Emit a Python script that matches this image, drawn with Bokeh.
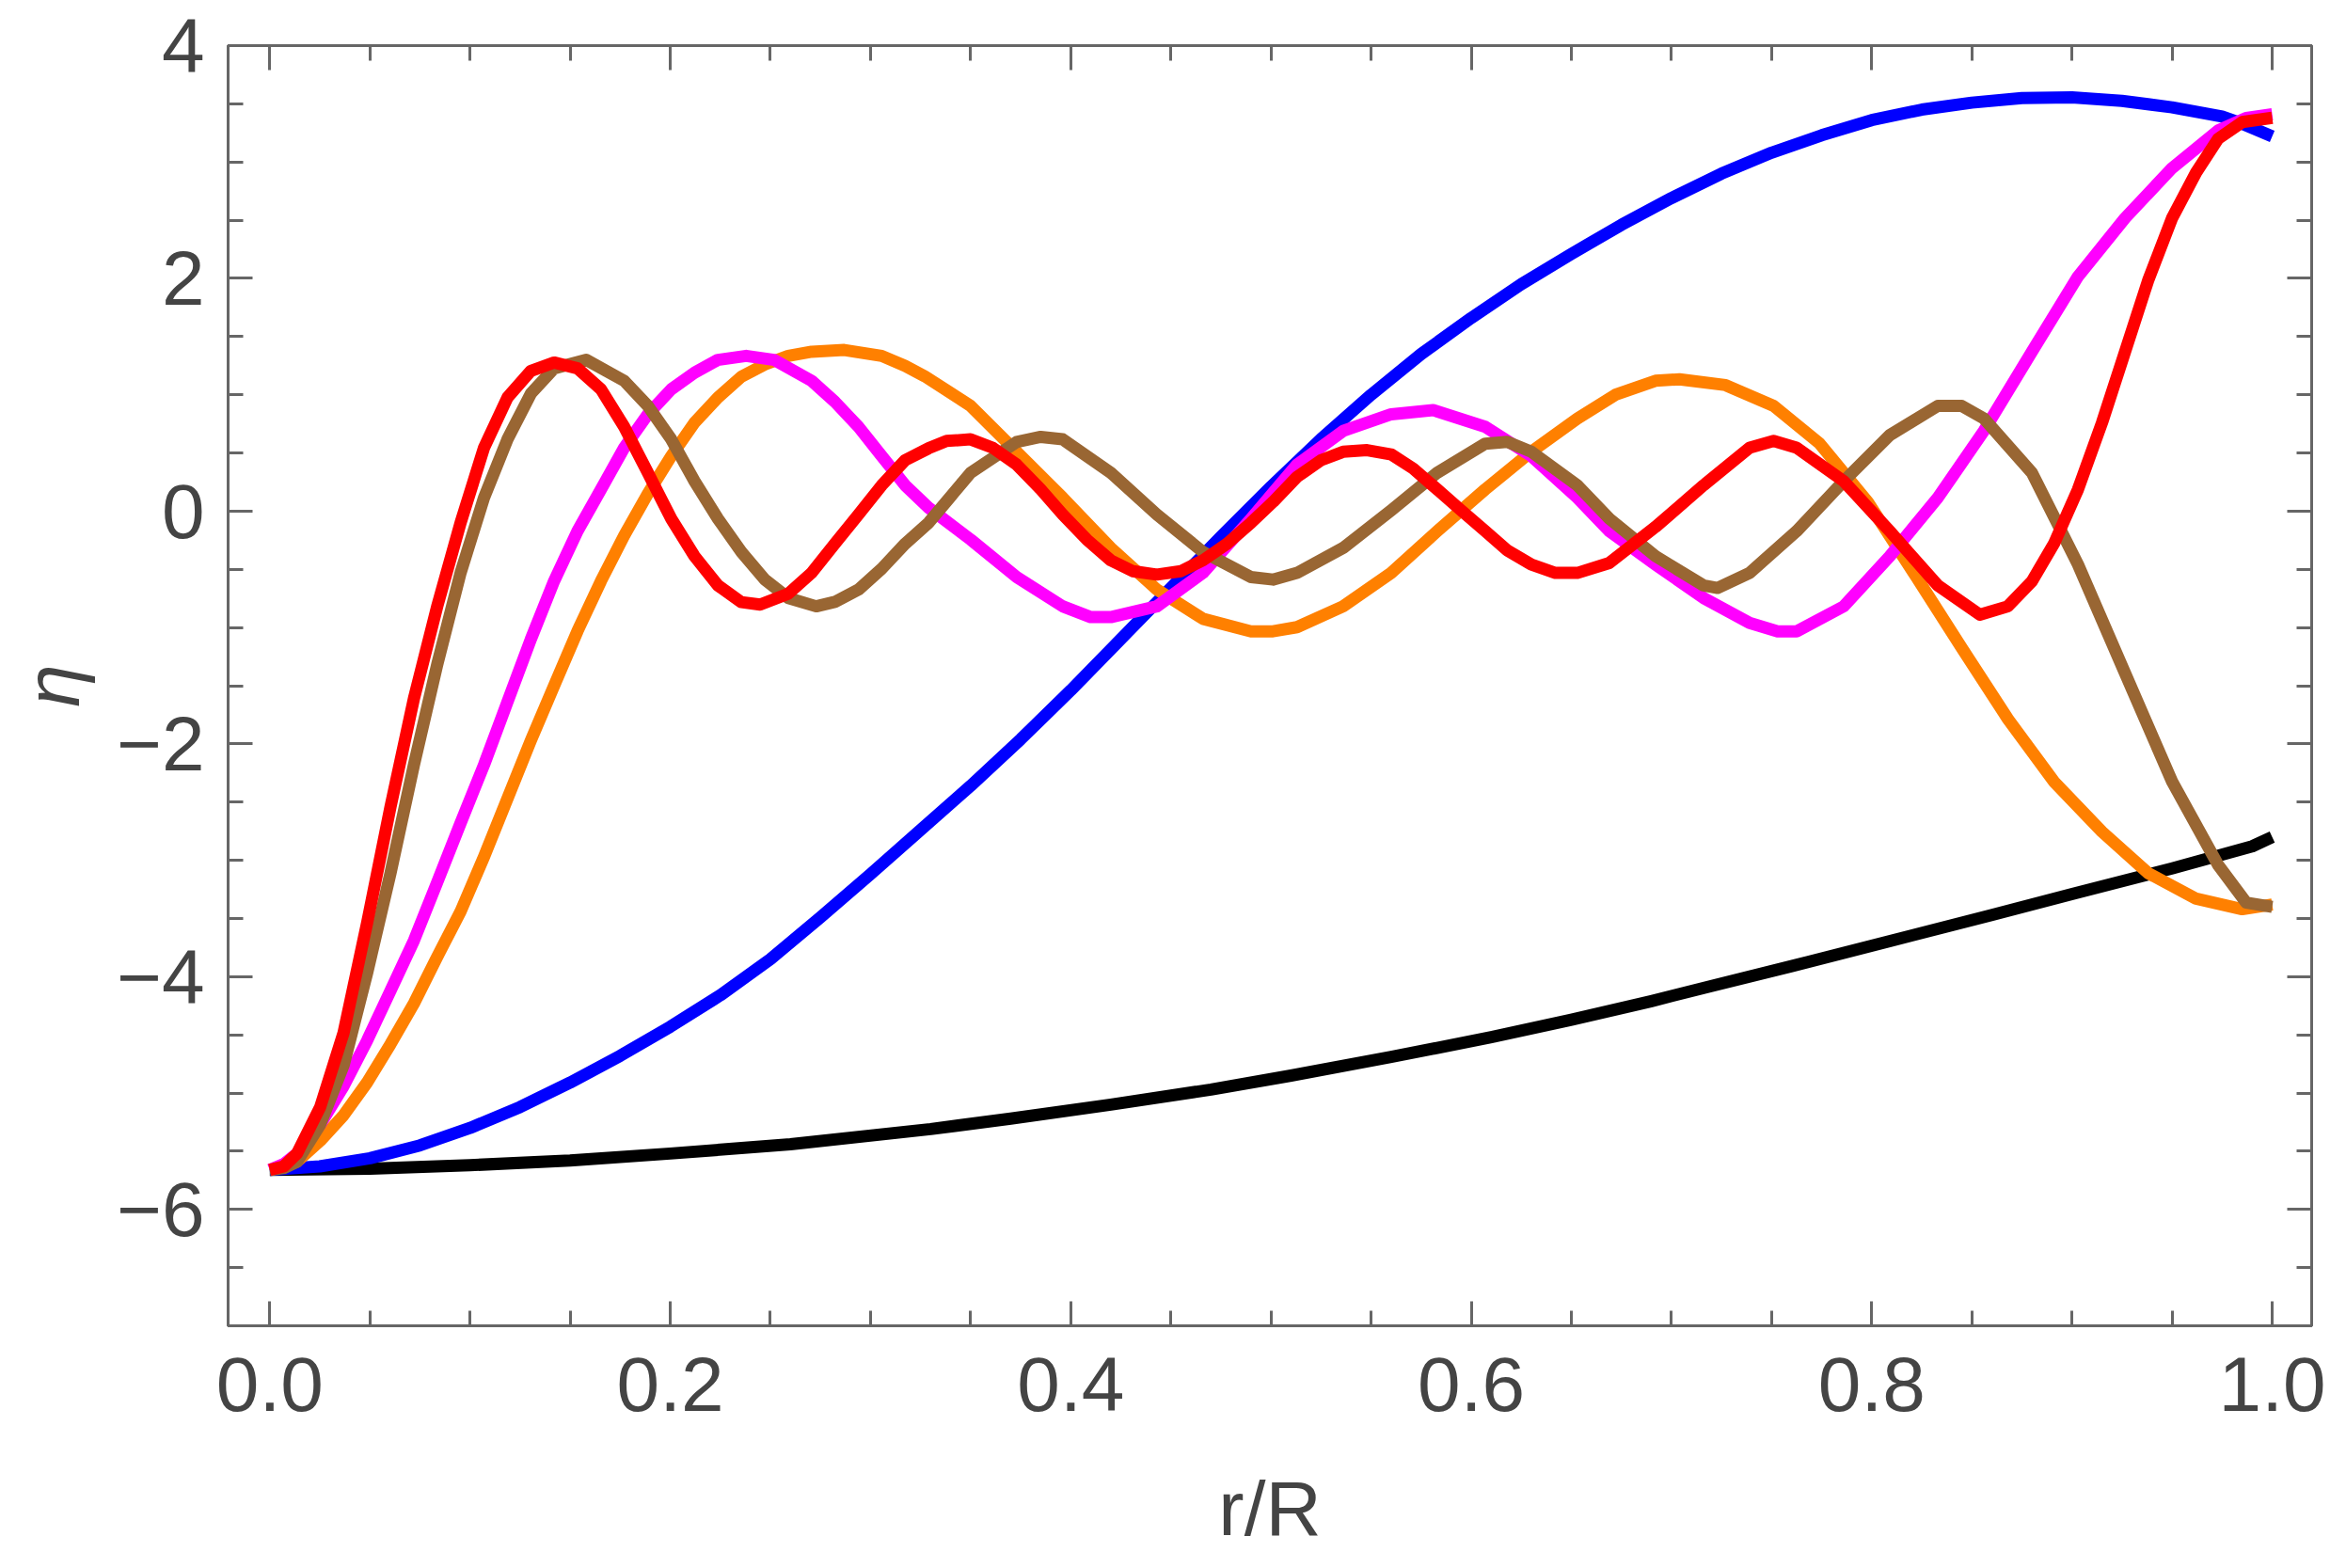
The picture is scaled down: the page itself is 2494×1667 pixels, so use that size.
from bokeh.plotting import figure
from bokeh.models import Range1d, LinearAxis, FixedTicker
from bokeh.embed import file_html
from bokeh.resources import INLINE

# ---------------- data ----------------
x_ticks = [0.0, 0.2, 0.4, 0.6, 0.8, 1.0]
x_tick_labels = ["0.0", "0.2", "0.4", "0.6", "0.8", "1.0"]
x_minor = [0.05, 0.1, 0.15, 0.25, 0.3, 0.35, 0.45, 0.5, 0.55, 0.65, 0.7, 0.75, 0.85, 0.9, 0.95]
y_ticks = [-6, -4, -2, 0, 2, 4]
y_tick_labels = ["\u22126", "\u22124", "\u22122", "0", "2", "4"]
y_minor = [-6.5, -5.5, -5, -4.5, -3.5, -3, -2.5, -1.5, -1, -0.5, 0.5, 1, 1.5, 2.5, 3, 3.5]

black_x = [0, 0.05, 0.10, 0.15, 0.20, 0.26, 0.33, 0.37, 0.42, 0.47, 0.51, 0.56, 0.61, 0.65, 0.69,
           0.72, 0.76, 0.81, 0.86, 0.90, 0.95, 0.99, 1.0]
black_y = [-5.66, -5.65, -5.62, -5.58, -5.52, -5.44, -5.31, -5.22, -5.10, -4.97, -4.85, -4.69, -4.52,
           -4.37, -4.21, -4.08, -3.91, -3.69, -3.47, -3.29, -3.07, -2.88, -2.80]

blue_x = [0, 0.025, 0.05, 0.075, 0.10, 0.125, 0.15, 0.175, 0.20, 0.225, 0.25, 0.275, 0.30, 0.325,
          0.35, 0.375, 0.40, 0.425, 0.45, 0.475, 0.50, 0.525, 0.55, 0.575, 0.60, 0.625, 0.65, 0.675,
          0.70, 0.725, 0.75, 0.775, 0.80, 0.825, 0.85, 0.875, 0.90, 0.925, 0.95, 0.975, 0.985, 1.0]
blue_y = [-5.66, -5.63, -5.56, -5.45, -5.30, -5.12, -4.91, -4.68, -4.43, -4.16, -3.85, -3.49, -3.12,
          -2.74, -2.36, -1.96, -1.54, -1.10, -0.66, -0.22, 0.21, 0.62, 1.00, 1.35, 1.66, 1.95, 2.21,
          2.46, 2.69, 2.90, 3.08, 3.23, 3.36, 3.45, 3.51, 3.55, 3.555, 3.525, 3.47, 3.39, 3.33, 3.22]

orange_x = [0, 0.007, 0.0136, 0.0252, 0.0369, 0.0486, 0.0603, 0.072, 0.0836, 0.0953, 0.107, 0.1187,
            0.1304, 0.142, 0.1537, 0.1654, 0.177, 0.1888, 0.2005, 0.2121, 0.2238, 0.2355, 0.2472,
            0.2589, 0.2706, 0.2869, 0.3056, 0.3173, 0.327, 0.350, 0.373, 0.396, 0.420, 0.443, 0.466,
            0.490, 0.501, 0.513, 0.536, 0.560, 0.583, 0.607, 0.630, 0.653, 0.672, 0.692, 0.704, 0.727,
            0.751, 0.774, 0.798, 0.821, 0.845, 0.868, 0.891, 0.915, 0.938, 0.962, 0.985, 1.0]
orange_y = [-5.66, -5.635, -5.59, -5.41, -5.19, -4.91, -4.58, -4.23, -3.83, -3.44, -2.97, -2.47,
            -1.97, -1.50, -1.03, -0.60, -0.21, 0.15, 0.473, 0.76, 0.976, 1.155, 1.26,
            1.334, 1.37, 1.385, 1.334, 1.248, 1.16, 0.904, 0.51, 0.115, -0.316, -0.674, -0.925,
            -1.033, -1.033, -0.997, -0.818, -0.531, -0.172, 0.187, 0.51, 0.796, 1.0, 1.12, 1.133, 1.083,
            0.904, 0.581, 0.079, -0.531, -1.176, -1.786, -2.324, -2.755, -3.11, -3.33, -3.42, -3.38]

magenta_x = [0, 0.007, 0.0136, 0.0252, 0.0369, 0.0486, 0.0603, 0.072, 0.0836, 0.0953, 0.107, 0.1187,
             0.1304, 0.142, 0.1537, 0.1654, 0.177, 0.1888, 0.2005, 0.2121, 0.2238, 0.2379, 0.2519,
             0.2706, 0.2822, 0.294, 0.3056, 0.3173, 0.329, 0.350, 0.373, 0.396, 0.410, 0.420, 0.443,
             0.466, 0.490, 0.513, 0.536, 0.560, 0.581, 0.607, 0.630, 0.653, 0.669, 0.692, 0.716, 0.739,
             0.753, 0.7625, 0.786, 0.809, 0.833, 0.856, 0.880, 0.903, 0.9265, 0.950, 0.973, 0.987, 1.0]
magenta_y = [-5.66, -5.61, -5.52, -5.27, -4.94, -4.55, -4.12, -3.69, -3.19, -2.68, -2.18, -1.64,
             -1.10, -0.60, -0.17, 0.187, 0.545, 0.832, 1.047, 1.19, 1.30, 1.334, 1.30,
             1.12, 0.94, 0.725, 0.473, 0.222, 0.03, -0.244, -0.567, -0.818, -0.911, -0.911, -0.818,
             -0.531, -0.065, 0.40, 0.689, 0.832, 0.868, 0.725, 0.473, 0.115, -0.172, -0.459, -0.746, -0.961,
             -1.033, -1.033, -0.818, -0.387, 0.115, 0.689, 1.37, 2.016, 2.518, 2.948, 3.271, 3.379, 3.41]

brown_x = [0, 0.007, 0.0136, 0.0252, 0.0369, 0.0486, 0.0603, 0.072, 0.0836, 0.0953, 0.107, 0.1187,
           0.1304, 0.142, 0.158, 0.177, 0.1888, 0.2005, 0.2121, 0.2238, 0.2355, 0.2472, 0.2589, 0.2729,
           0.2822, 0.294, 0.3056, 0.3173, 0.329, 0.350, 0.373, 0.385, 0.396, 0.420, 0.443, 0.466, 0.490,
           0.501, 0.513, 0.536, 0.560, 0.583, 0.607, 0.618, 0.630, 0.653, 0.669, 0.692, 0.716, 0.723,
           0.739, 0.7625, 0.786, 0.809, 0.833, 0.845, 0.856, 0.880, 0.903, 0.9265, 0.950, 0.973, 0.987, 1.0]
brown_y = [-5.66, -5.645, -5.59, -5.27, -4.76, -3.97, -3.11, -2.18, -1.32, -0.53, 0.115, 0.617,
           1.01, 1.227, 1.30, 1.12, 0.904, 0.617, 0.258, -0.065, -0.35, -0.588, -0.746, -0.818,
           -0.78, -0.674, -0.495, -0.28, -0.10, 0.33, 0.595, 0.638, 0.617, 0.33, -0.029, -0.35, -0.567,
           -0.588, -0.531, -0.316, 0.007, 0.33, 0.58, 0.595, 0.51, 0.222, -0.065, -0.387, -0.638, -0.66,
           -0.531, -0.172, 0.258, 0.653, 0.904, 0.904, 0.796, 0.33, -0.459, -1.392, -2.324, -3.04, -3.364, -3.40]

red_x = [0, 0.007, 0.0136, 0.0252, 0.0369, 0.0486, 0.0603, 0.072, 0.0836, 0.0953, 0.107, 0.1187,
         0.1304, 0.142, 0.1537, 0.1654, 0.177, 0.1888, 0.2005, 0.2121, 0.2238, 0.2355, 0.2449, 0.2589,
         0.2706, 0.2822, 0.294, 0.3056, 0.3173, 0.329, 0.338, 0.350, 0.361, 0.373, 0.385, 0.396, 0.408,
         0.420, 0.431, 0.443, 0.455, 0.466, 0.478, 0.490, 0.501, 0.513, 0.525, 0.536, 0.548, 0.560,
         0.571, 0.583, 0.595, 0.607, 0.618, 0.630, 0.642, 0.653, 0.669, 0.692, 0.716, 0.739, 0.751,
         0.7625, 0.786, 0.809, 0.833, 0.854, 0.868, 0.880, 0.891, 0.903, 0.915, 0.9265, 0.938, 0.950,
         0.962, 0.973, 0.985, 1.0]
red_y = [-5.66, -5.63, -5.52, -5.12, -4.48, -3.54, -2.54, -1.61, -0.82, -0.10, 0.545, 0.976,
         1.205, 1.277, 1.227, 1.047, 0.725, 0.33, -0.065, -0.387, -0.638, -0.782, -0.803, -0.71,
         -0.53, -0.28, -0.029, 0.222, 0.438, 0.54, 0.603, 0.617, 0.545, 0.40, 0.187, -0.029, -0.244,
         -0.423, -0.516, -0.545, -0.516, -0.423, -0.28, -0.10, 0.079, 0.294, 0.438, 0.51, 0.524, 0.488,
         0.366, 0.187, 0.007, -0.172, -0.337, -0.459, -0.531, -0.531, -0.445, -0.136, 0.222, 0.545, 0.603,
         0.545, 0.258, -0.172, -0.638, -0.89, -0.818, -0.603, -0.28, 0.187, 0.76, 1.37, 1.98, 2.518,
         2.91, 3.20, 3.343, 3.38]

series = [
    (black_x, black_y, "#000000"),
    (blue_x, blue_y, "#0000FF"),
    (orange_x, orange_y, "#FF8000"),
    (magenta_x, magenta_y, "#FF00FF"),
    (brown_x, brown_y, "#996633"),
    (red_x, red_y, "#FF0000"),
]

# ---------------- figure ----------------
FRAME = "#666666"
TEXT = "#444444"
FONT = "Liberation Sans"
FS = "82px"
W, H = 2478, 1651

p = figure(width=W, height=H, output_backend="svg", toolbar_location=None,
           x_range=Range1d(-0.0208, 1.0197), y_range=Range1d(-7, 4),
           min_border_left=242, min_border_right=W - 2457, min_border_top=48,
           min_border_bottom=H - 1417,
           background_fill_color="white", border_fill_color="white")
p.xgrid.visible = False
p.ygrid.visible = False
p.outline_line_color = FRAME
p.outline_line_width = 3


def style_axis(ax, ticks, minor, labels, show_labels):
    ax.ticker = FixedTicker(ticks=ticks, minor_ticks=minor)
    ax.axis_line_color = FRAME
    ax.axis_line_width = 3
    ax.major_tick_line_color = FRAME
    ax.major_tick_line_width = 3
    ax.minor_tick_line_color = FRAME
    ax.minor_tick_line_width = 3
    ax.major_tick_in = 26
    ax.major_tick_out = 0
    ax.minor_tick_in = 16
    ax.minor_tick_out = 0
    if show_labels:
        ax.major_label_overrides = {t: l for t, l in zip(ticks, labels)}
        ax.major_label_text_font = FONT
        ax.major_label_text_font_size = FS
        ax.major_label_text_color = TEXT
    else:
        # mirrored frame ticks only: tick labels are not drawn
        ax.major_label_text_color = None
        ax.major_label_text_font_size = "8px"
        ax.major_label_standoff = 0
        ax.axis_label = None


xa = p.xaxis[0]
style_axis(xa, x_ticks, x_minor, x_tick_labels, True)
xa.major_label_standoff = 33
xa.axis_label = "r/R"
xa.axis_label_text_font = FONT
xa.axis_label_text_font_size = FS
xa.axis_label_text_font_style = "normal"
xa.axis_label_text_color = TEXT
xa.axis_label_standoff = 55

ya = p.yaxis[0]
style_axis(ya, y_ticks, y_minor, y_tick_labels, True)
ya.major_label_standoff = 25
ya.axis_label = "\u03b7"
ya.axis_label_text_font = FONT
ya.axis_label_text_font_size = FS
ya.axis_label_text_font_style = "italic"
ya.axis_label_text_color = TEXT
ya.axis_label_standoff = 20

top = LinearAxis()
style_axis(top, x_ticks, x_minor, x_tick_labels, False)
p.add_layout(top, "above")
right = LinearAxis()
style_axis(right, y_ticks, y_minor, y_tick_labels, False)
p.add_layout(right, "right")

for xs, ys, col in series:
    assert len(xs) == len(ys), (col, len(xs), len(ys))
    p.line(xs, ys, line_color=col, line_width=13, line_join="round", line_cap="butt")

open("out.html", "w").write(file_html(p, INLINE))
